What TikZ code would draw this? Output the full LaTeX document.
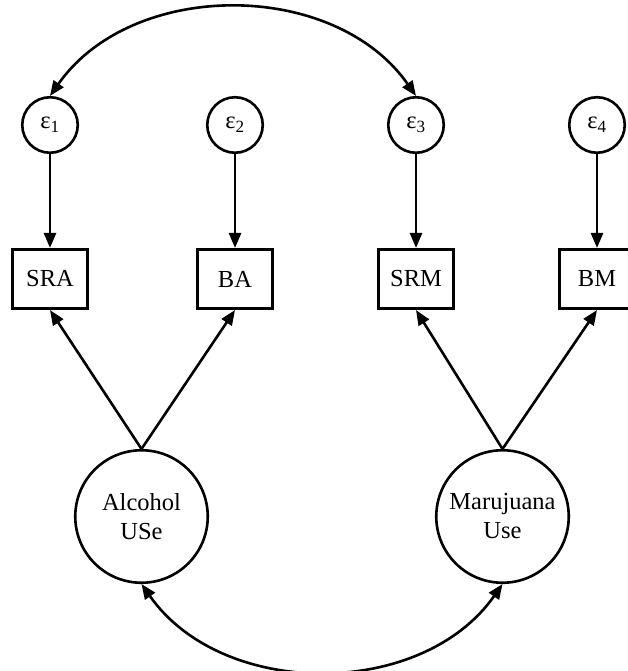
\documentclass[tikz,border=0pt]{standalone}
\usepackage{fontspec}
\setmainfont{Liberation Serif}
\usetikzlibrary{arrows.meta}
\tikzset{
  errnode/.style={circle,draw,line width=2.6pt,minimum size=55.5pt,inner sep=0pt},
  obsbox/.style={rectangle,draw,line width=2.6pt,minimum width=74.5pt,minimum height=59.5pt,inner sep=0pt},
  latnode/.style={circle,draw,line width=2.6pt,minimum size=132.5pt,inner sep=0pt,align=center},
  arr/.style={line width=2.6pt,-{Triangle[length=15pt,width=12pt]}},
  dblarr/.style={line width=2.6pt,{Triangle[length=15pt,width=12pt]}-{Triangle[length=15pt,width=12pt]}}
}
\begin{document}
\begin{tikzpicture}[x=1pt,y=-1pt,font=\fontsize{24.5}{29}\selectfont]
\clip (0,0) rectangle (628,671);
\fill[white] (0,0) rectangle (628,671);
% error terms
\node[errnode] (e1) at (50,125) {ε\textsubscript{1}};
\node[errnode] (e2) at (235,125) {ε\textsubscript{2}};
\node[errnode] (e3) at (416,125) {ε\textsubscript{3}};
\node[errnode] (e4) at (597,125) {ε\textsubscript{4}};
% observed
\node[obsbox] (sra) at (50,279) {SRA};
\node[obsbox] (ba) at (235,279) {BA};
\node[obsbox] (srm) at (416,279) {SRM};
\node[obsbox] (bm) at (597,279) {BM};
% latent
\node[latnode] (alc) at (141.5,516.5) {Alcohol\\USe};
\node[latnode] (mar) at (502.5,516.5) {Marujuana\\Use};
% paths
\draw[arr] (e1) -- (sra);
\draw[arr] (e2) -- (ba);
\draw[arr] (e3) -- (srm);
\draw[arr] (e4) -- (bm);
\draw[arr] (alc.north) -- (sra.south);
\draw[arr] (alc.north) -- (ba.south);
\draw[arr] (mar.north) -- (srm.south);
\draw[arr] (mar.north) -- (bm.south);
% covariances
\draw[dblarr] (e1.north) to[out=55,in=125] (e3.north);
\draw[dblarr] (alc.south) to[out=-55,in=-125] (mar.south);
\end{tikzpicture}
\end{document}
